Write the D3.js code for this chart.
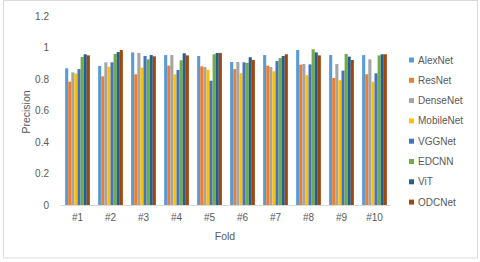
<!DOCTYPE html>
<html><head><meta charset="utf-8">
<script src="https://cdn.jsdelivr.net/npm/d3@7"></script>
<style>html,body{margin:0;padding:0;background:#fff;}svg{display:block;}</style>
</head><body>
<script>
const folds = ["#1","#2","#3","#4","#5","#6","#7","#8","#9","#10"];
const seriesNames = ["AlexNet","ResNet","DenseNet","MobileNet","VGGNet","EDCNN","ViT","ODCNet"];
const colors = ["#5B9BD5","#ED7D31","#A5A5A5","#FFC000","#4472C4","#70AD47","#255E91","#9E480E"];
const AlexNet   = [0.868,0.883,0.969,0.952,0.946,0.908,0.952,0.984,0.952,0.952];
const ResNet    = [0.783,0.817,0.830,0.885,0.880,0.863,0.885,0.891,0.806,0.830];
const DenseNet  = [0.842,0.906,0.965,0.952,0.876,0.908,0.876,0.895,0.895,0.925];
const MobileNet = [0.834,0.878,0.872,0.830,0.859,0.836,0.849,0.825,0.792,0.783];
const VGGNet    = [0.863,0.906,0.946,0.857,0.789,0.906,0.914,0.893,0.853,0.836];
const EDCNN     = [0.940,0.959,0.925,0.919,0.957,0.902,0.933,0.989,0.959,0.950];
const ViT       = [0.957,0.971,0.952,0.963,0.965,0.938,0.946,0.969,0.942,0.957];
const ODCNet    = [0.950,0.984,0.944,0.950,0.965,0.921,0.957,0.950,0.921,0.957];
const yTicks = [0,0.2,0.4,0.6,0.8,1,1.2];
const yTickLabels = ["0","0.2","0.4","0.6","0.8","1","1.2"];
const seriesValues = [AlexNet,ResNet,DenseNet,MobileNet,VGGNet,EDCNN,ViT,ODCNet];

const W=480,H=262;
const svg=d3.select("body").append("svg").attr("width",W).attr("height",H);
const font="'Liberation Sans', Arial, sans-serif";
const txt="#595959";
svg.append("rect").attr("x",3.5).attr("y",0.5).attr("width",474).attr("height",257.5)
  .attr("fill","#fff").attr("stroke","#D9D9D9");

const plot={left:61,right:391,top:16,bottom:205};
const x0=d3.scaleBand().domain(folds).range([plot.left,plot.right]).padding(0);
const x1=d3.scaleBand().domain(seriesNames).range([x0.bandwidth()*0.125,x0.bandwidth()*0.875]).padding(0);
const y=d3.scaleLinear().domain([0,1.2]).range([plot.bottom,plot.top]);

// y axis labels
const yAxis=d3.axisLeft(y).tickValues(yTicks).tickFormat((d,i)=>yTickLabels[i]).tickSize(0).tickPadding(0);
const ya=svg.append("g").attr("transform",`translate(49,0)`).call(yAxis);
ya.select(".domain").remove();
ya.selectAll("text").attr("font-family",font).attr("font-size",10).attr("fill",txt);

// bars
const groups=svg.append("g").selectAll("g").data(folds).join("g")
  .attr("transform",d=>`translate(${x0(d)},0)`);
groups.selectAll("rect").data((d,i)=>seriesNames.map((s,j)=>({s,j,v:seriesValues[j][i]})))
  .join("rect")
  .attr("x",d=>x1(d.s)).attr("width",x1.bandwidth())
  .attr("y",d=>y(d.v)).attr("height",d=>y(0)-y(d.v))
  .attr("fill",d=>colors[d.j]);

// x axis
const xAxis=d3.axisBottom(x0).tickSize(0).tickPadding(9);
const xa=svg.append("g").attr("transform",`translate(0,${plot.bottom})`).call(xAxis);
xa.select(".domain").attr("stroke","#D9D9D9").attr("d",`M${plot.left},0.5H${plot.right}`);
xa.selectAll("text").attr("font-family",font).attr("font-size",10).attr("fill",txt);

// axis titles
svg.append("text").attr("x",225).attr("y",240).attr("text-anchor","middle")
  .attr("font-family",font).attr("font-size",10.5).attr("fill",txt).text("Fold");
svg.append("text").attr("transform","translate(30,112) rotate(-90)").attr("text-anchor","middle")
  .attr("font-family",font).attr("font-size",10.5).attr("fill",txt).text("Precision");

// legend
const lg=svg.append("g").selectAll("g").data(seriesNames).join("g")
  .attr("transform",(d,i)=>`translate(409,${60+i*20.3})`);
lg.append("rect").attr("x",0).attr("y",-2.5).attr("width",5).attr("height",5).attr("fill",(d,i)=>colors[i]);
lg.append("text").attr("x",9).attr("y",0).attr("dy","0.35em").attr("font-family",font)
  .attr("font-size",10).attr("fill",txt).text(d=>d);
</script>
</body></html>
